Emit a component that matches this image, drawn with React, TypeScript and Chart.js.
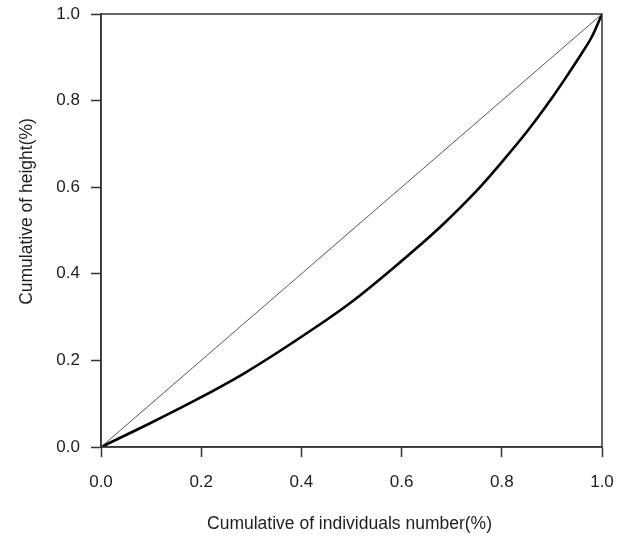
import React, { useEffect, useRef } from "react";
import Chart from "chart.js/auto";

const curveX = [0, 0.1, 0.2, 0.29, 0.424, 0.5, 0.583, 0.676, 0.75, 0.8, 0.85, 0.9, 0.93, 0.96, 0.98, 1.0];
const curveY = [0, 0.056, 0.115, 0.173, 0.273, 0.335, 0.413, 0.507, 0.592, 0.658, 0.728, 0.806, 0.857, 0.91, 0.948, 1.0];
const equalityX = [0, 1];
const equalityY = [0, 1];
const tickValues = [0, 0.2, 0.4, 0.6, 0.8, 1.0];
const xTitle = "Cumulative of individuals number(%)";
const yTitle = "Cumulative of height(%)";

const FONT = "'Liberation Sans', Arial, sans-serif";
const AXIS_COLOR = "#333333";
const TEXT_COLOR = "#1e1e1e";

const framePlugin = {
  id: "frameAndTitles",
  afterDraw(chart: any) {
    const { ctx, chartArea } = chart;
    const { left, right, top, bottom } = chartArea;
    ctx.save();
    ctx.strokeStyle = AXIS_COLOR;
    ctx.lineWidth = 1.5;
    ctx.strokeRect(left, top, right - left, bottom - top);
    ctx.fillStyle = TEXT_COLOR;
    ctx.font = `17.5px ${FONT}`;
    ctx.textAlign = "center";
    ctx.textBaseline = "middle";
    ctx.fillText(xTitle, (left + right) / 2 - 2, bottom + 77);
    ctx.translate(left - 74, (top + bottom) / 2 - 19);
    ctx.rotate(-Math.PI / 2);
    ctx.fillText(yTitle, 0, 0);
    ctx.restore();
  },
};

export default function App() {
  const canvasRef = useRef<HTMLCanvasElement | null>(null);

  useEffect(() => {
    if (!canvasRef.current) return;
    const chart = new Chart(canvasRef.current, {
      type: "line",
      data: {
        datasets: [
          {
            label: "Equality",
            data: equalityX.map((x, i) => ({ x, y: equalityY[i] })),
            borderColor: "#555555",
            borderWidth: 1,
            pointRadius: 0,
            fill: false,
            tension: 0,
          },
          {
            label: "Lorenz curve",
            data: curveX.map((x, i) => ({ x, y: curveY[i] })),
            borderColor: "#000000",
            borderWidth: 2.6,
            pointRadius: 0,
            fill: false,
            cubicInterpolationMode: "monotone",
          },
        ],
      },
      options: {
        animation: false,
        responsive: true,
        maintainAspectRatio: false,
        layout: { padding: { top: 14, right: 28, left: 0, bottom: 0 } },
        plugins: {
          legend: { display: false },
          tooltip: { enabled: false },
        },
        scales: {
          x: {
            type: "linear",
            min: 0,
            max: 1,
            afterFit: (scale: any) => {
              scale.height = 93;
              scale.paddingLeft = 0;
              scale.paddingRight = 0;
            },
            afterBuildTicks: (scale: any) => {
              scale.ticks = tickValues.map((v) => ({ value: v }));
            },
            ticks: {
              color: TEXT_COLOR,
              font: { family: FONT, size: 17 },
              padding: 15,
              maxRotation: 0,
              callback: (v: any) => Number(v).toFixed(1),
            },
            grid: {
              display: true,
              drawOnChartArea: false,
              drawTicks: true,
              tickLength: 10,
              tickColor: AXIS_COLOR,
              tickWidth: 1.5,
            },
            border: { display: true, color: AXIS_COLOR, width: 1.5 },
          },
          y: {
            type: "linear",
            min: 0,
            max: 1,
            afterFit: (scale: any) => {
              scale.width = 101;
              scale.paddingTop = 0;
              scale.paddingBottom = 0;
            },
            afterBuildTicks: (scale: any) => {
              scale.ticks = tickValues.map((v) => ({ value: v }));
            },
            ticks: {
              color: TEXT_COLOR,
              font: { family: FONT, size: 17 },
              padding: 11,
              callback: (v: any) => Number(v).toFixed(1),
            },
            grid: {
              display: true,
              drawOnChartArea: false,
              drawTicks: true,
              tickLength: 10,
              tickColor: AXIS_COLOR,
              tickWidth: 1.5,
            },
            border: { display: true, color: AXIS_COLOR, width: 1.5 },
          },
        },
      },
      plugins: [framePlugin],
    });
    return () => chart.destroy();
  }, []);

  return (
    <div style={{ position: "fixed", left: 0, top: 0, width: 630, height: 540, background: "#ffffff" }}>
      <canvas ref={canvasRef} />
    </div>
  );
}
